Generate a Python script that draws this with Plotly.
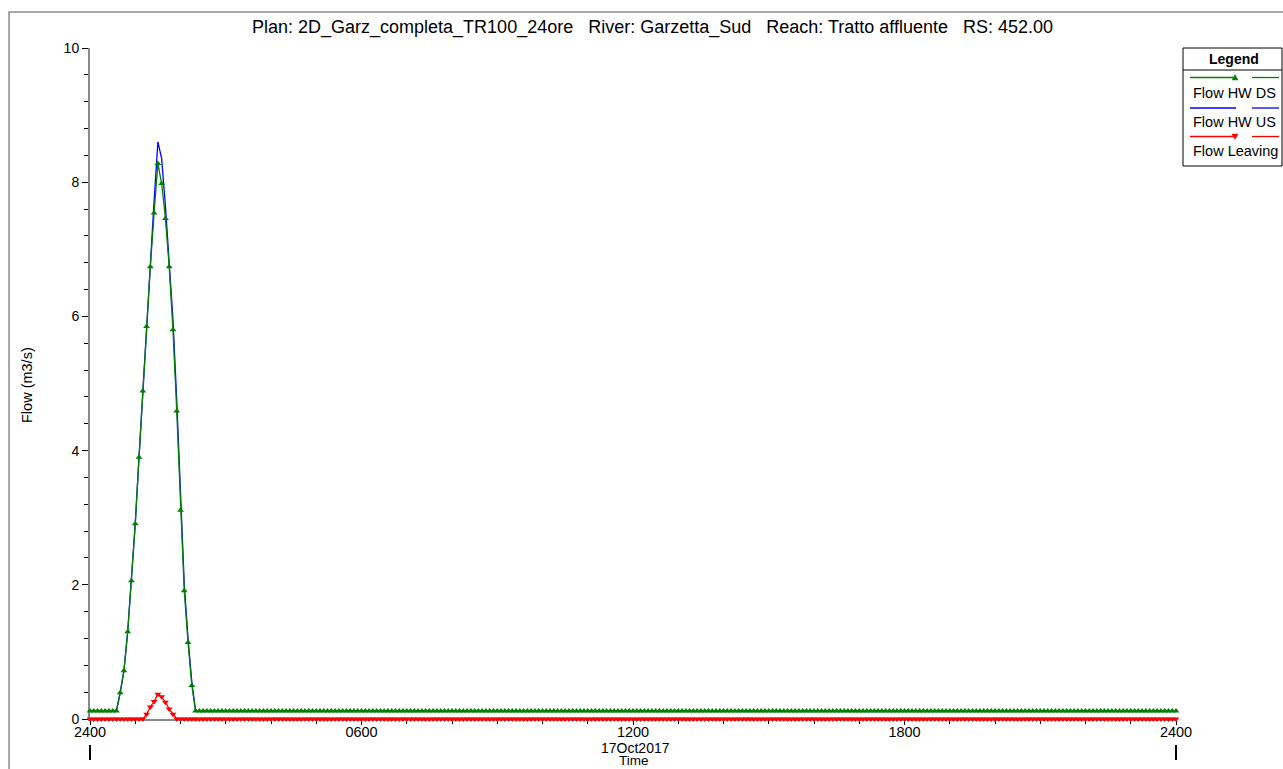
import plotly.graph_objects as go
import pandas as pd

# 5-minute output interval, 17Oct2017 0000 -> 18Oct2017 0000
times = pd.date_range("2017-10-17 00:00", "2017-10-18 00:00", freq="5min")

base_hw = 0.12
flow_hw_ds_event = [0.39, 0.72, 1.30, 2.06, 2.91, 3.90, 4.89, 5.85, 6.74, 7.54,
                    8.28, 7.98, 7.46, 6.74, 5.80, 4.59, 3.11, 1.91, 1.14, 0.50]
flow_hw_us_event = [0.39, 0.72, 1.30, 2.06, 2.91, 3.90, 4.89, 5.85, 6.74, 7.72,
                    8.60, 8.35, 7.65, 6.85, 5.95, 4.75, 3.25, 2.00, 1.20, 0.55]
flow_leaving_event = [0.07, 0.18, 0.26, 0.37, 0.33, 0.25, 0.15, 0.07]

flow_hw_ds = [base_hw] * 8 + flow_hw_ds_event + [base_hw] * 261
flow_hw_us = [base_hw] * 8 + flow_hw_us_event + [base_hw] * 261
flow_leaving = [0.0] * 15 + flow_leaving_event + [0.0] * 266

tick_times = ["2017-10-17 00:00", "2017-10-17 06:00", "2017-10-17 12:00",
              "2017-10-17 18:00", "2017-10-18 00:00"]
tick_text = ["2400", "0600", "1200", "1800", "2400"]

title = ("Plan: 2D_Garz_completa_TR100_24ore\u00a0\u00a0\u00a0River: Garzetta_Sud"
         "\u00a0\u00a0\u00a0Reach: Tratto affluente\u00a0\u00a0\u00a0RS: 452.00")

FONT = "Liberation Sans, Arial, sans-serif"
GREEN, BLUE, RED, AXIS = "#008000", "#0000ff", "#ff0000", "#8a8a8a"

# page size and plot area in page pixels (body margin removed below)
W, H = 1283, 769
PL, PR, PT, PB = 90, 1176, 48, 719


def px(x):
    return (x - PL) / (PR - PL)


def py(y):
    return (PB - y) / (PB - PT)


fig = go.Figure()
fig.add_trace(go.Scatter(x=times, y=flow_hw_us, mode="lines", name="Flow HW US",
                         line=dict(color=BLUE, width=1.3)))
fig.add_trace(go.Scatter(x=times, y=flow_hw_ds, mode="lines+markers", name="Flow HW DS",
                         line=dict(color=GREEN, width=1.3),
                         marker=dict(symbol="triangle-up", size=6, color=GREEN),
                         cliponaxis=False))
fig.add_trace(go.Scatter(x=times, y=flow_leaving, mode="lines+markers", name="Flow Leaving",
                         line=dict(color=RED, width=1.3),
                         marker=dict(symbol="triangle-down", size=6, color=RED),
                         cliponaxis=False))

fig.update_layout(
    width=W, height=H,
    margin=dict(l=PL, r=W - PR, t=PT, b=H - PB, pad=0),
    paper_bgcolor="white", plot_bgcolor="white",
    showlegend=False,
    font=dict(family=FONT, size=14, color="black"),
)
fig.update_xaxes(
    range=[tick_times[0], tick_times[-1]],
    tickmode="array", tickvals=tick_times, ticktext=tick_text,
    ticks="outside", ticklen=4, tickcolor="black", tickwidth=1,
    ticklabelstandoff=-5,
    minor=dict(dtick=3600000, ticks="outside", ticklen=3, tickcolor="black"),
    showgrid=False, zeroline=False,
    showline=True, linecolor=AXIS, linewidth=2, layer="below traces",
    tickfont=dict(size=14.5),
)
fig.update_yaxes(
    range=[0, 10], dtick=2,
    ticks="outside", ticklen=6, tickcolor="black", tickwidth=1,
    minor=dict(dtick=0.4, ticks="outside", ticklen=4, tickcolor="black"),
    showgrid=False, zeroline=False,
    showline=True, linecolor=AXIS, linewidth=2, layer="below traces",
    tickfont=dict(size=14),
)

annotations = [
    dict(text=title, x=px(652), y=py(27), font=dict(size=18)),
    dict(text="Flow (m3/s)", x=px(27), y=py(385), textangle=-90, font=dict(size=14.5)),
    dict(text="17Oct2017", x=px(635), y=py(748), font=dict(size=14)),
    dict(text="Time", x=px(634), y=py(761), font=dict(size=13.5)),
    dict(text="<b>Legend</b>", x=px(1234), y=py(59), font=dict(size=14)),
    dict(text="Flow HW DS", x=px(1234), y=py(93), font=dict(size=14.5)),
    dict(text="Flow HW US", x=px(1234), y=py(122), font=dict(size=14.5)),
    dict(text="Flow Leaving", x=px(1235), y=py(151), font=dict(size=14.5)),
]
for a in annotations:
    a.update(xref="paper", yref="paper", showarrow=False, xanchor="center", yanchor="middle")
fig.update_layout(annotations=annotations)

shapes = [
    # outer frame
    dict(type="rect", x0=px(9), y0=py(12), x1=px(1300), y1=py(800),
         line=dict(color=AXIS, width=1.5)),
    # day boundary marks under the time axis
    dict(type="line", x0=px(90), x1=px(90), y0=py(745), y1=py(760),
         line=dict(color="black", width=2)),
    dict(type="line", x0=px(1176), x1=px(1176), y0=py(745), y1=py(760),
         line=dict(color="black", width=2)),
    # legend box
    dict(type="rect", x0=px(1183), y0=py(48), x1=px(1282), y1=py(166),
         line=dict(color="black", width=1), fillcolor="white", layer="below"),
    dict(type="line", x0=px(1183), x1=px(1282), y0=py(70), y1=py(70),
         line=dict(color="black", width=1)),
]
for yy, col, mark in [(77.5, GREEN, "up"), (108, BLUE, None), (136.5, RED, "down")]:
    shapes.append(dict(type="line", x0=px(1190), x1=px(1236), y0=py(yy), y1=py(yy),
                       line=dict(color=col, width=1.3)))
    shapes.append(dict(type="line", x0=px(1252), x1=px(1279), y0=py(yy), y1=py(yy),
                       line=dict(color=col, width=1.3)))
    if mark == "up":
        path = f"M {px(1232)},{py(yy + 2.5)} L {px(1238)},{py(yy + 2.5)} L {px(1235)},{py(yy - 3)} Z"
    elif mark == "down":
        path = f"M {px(1232)},{py(yy - 2.5)} L {px(1238)},{py(yy - 2.5)} L {px(1235)},{py(yy + 3)} Z"
    else:
        continue
    shapes.append(dict(type="path", path=path, fillcolor=col, line=dict(color=col, width=0.5)))
for s in shapes:
    s.update(xref="paper", yref="paper")
fig.update_layout(shapes=shapes)

fig.write_html("out.html",
               config={"displayModeBar": False},
               post_script="document.body.style.margin='0';"
                           "document.body.style.overflow='hidden';")
